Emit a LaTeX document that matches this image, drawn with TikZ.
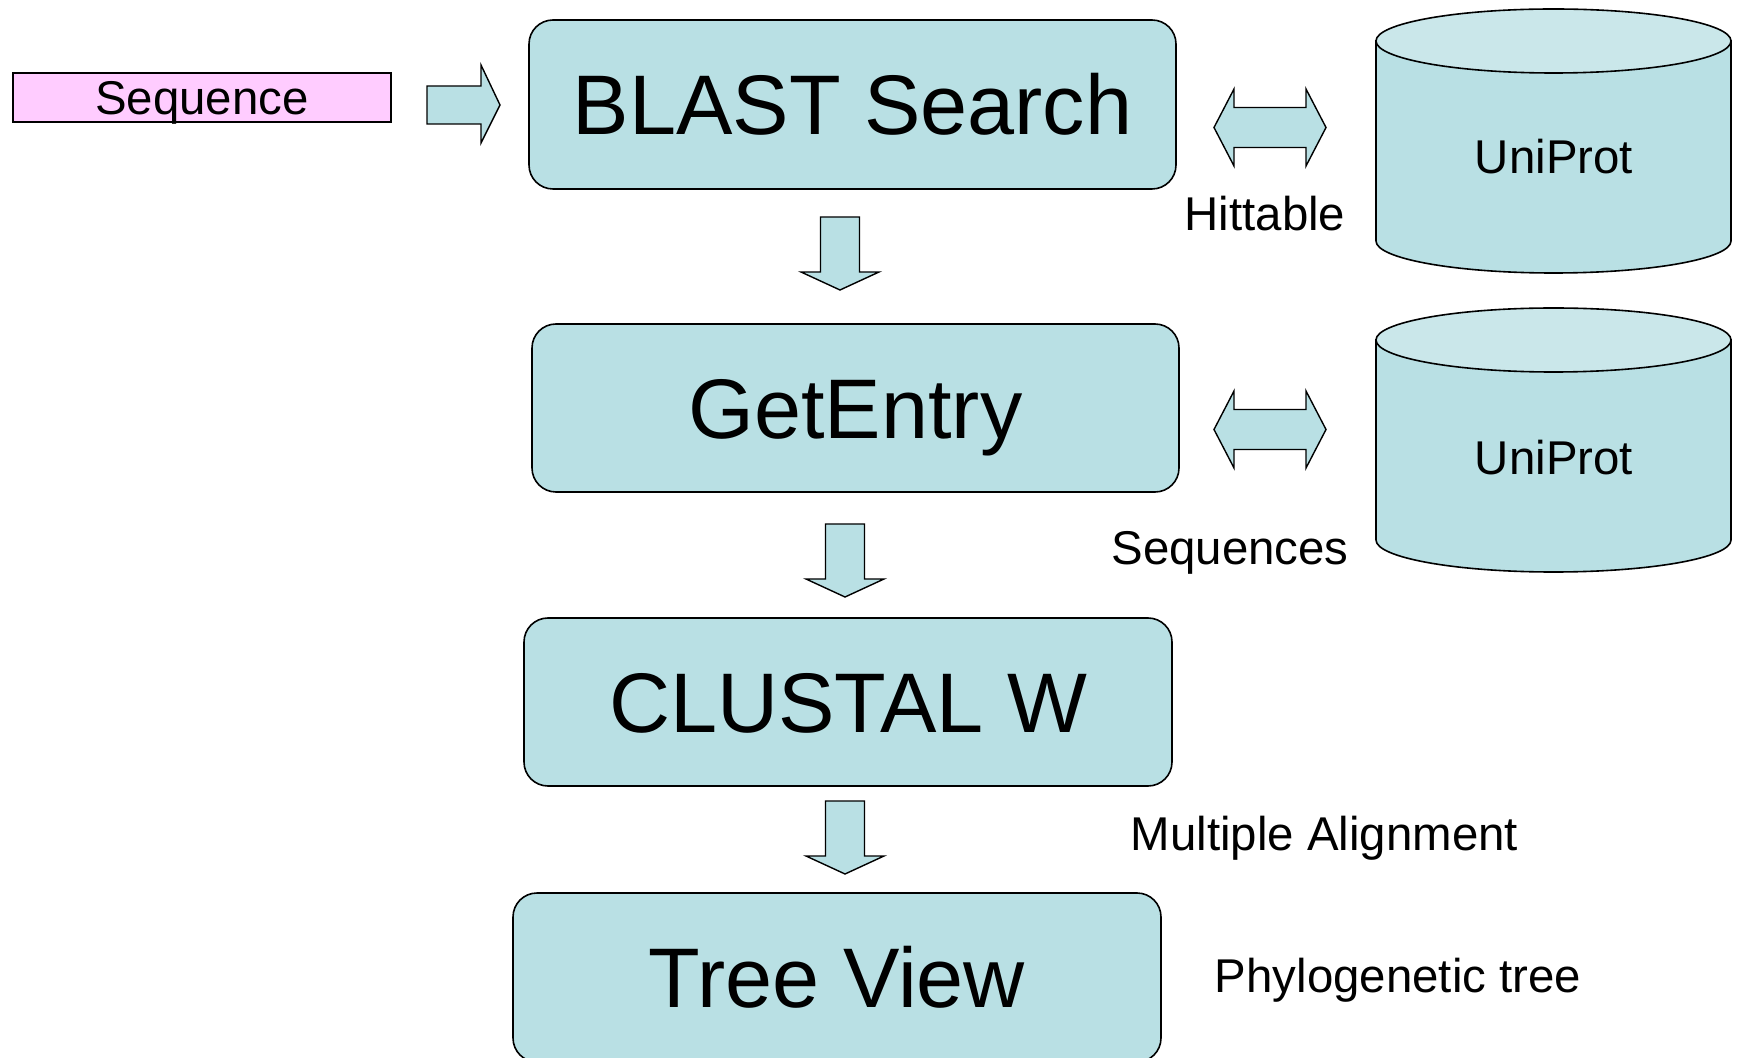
\documentclass[tikz,border=0pt]{standalone}
\usepackage{fontspec}
\setmainfont{Liberation Sans}
\definecolor{boxfill}{RGB}{185,224,228}
\definecolor{topfill}{RGB}{202,231,234}
\definecolor{pinkfill}{RGB}{255,204,255}
\tikzset{
  bigbox/.style={draw=black, line width=0.8pt, fill=boxfill, rounded corners=12pt,
    font=\fontsize{42.3pt}{50pt}\selectfont, text height=30.3pt, text depth=0pt,
    minimum width=323.5pt, inner sep=0pt},
  lbl/.style={font=\fontsize{23.7pt}{28pt}\selectfont, text height=17pt, text depth=0pt, inner sep=0pt},
  arrowfill/.style={draw=black, line width=0.7pt, fill=boxfill, line join=miter},
  downarr/.pic={\draw[arrowfill] (-19.5,0) -- (19.5,0) -- (19.5,55) -- (39,55) -- (0,73)
      -- (-39,55) -- (-19.5,55) -- cycle;},
  dblarr/.pic={\draw[arrowfill] (-56,0) -- (-36,-38.5) -- (-36,-20) -- (36,-20) -- (36,-38.5)
      -- (56,0) -- (36,38.5) -- (36,20) -- (-36,20) -- (-36,38.5) -- cycle;},
  cyl/.pic={\draw[arrowfill, line width=0.8pt] (-177.5,0) -- (-177.5,200)
      arc[start angle=180, end angle=360, x radius=88.75pt, y radius=16pt] -- (177.5,0) -- cycle;
    \draw[line width=0.8pt, fill=topfill] (0,0) ellipse [x radius=88.75pt, y radius=16pt];}
}
\begin{document}
\begin{tikzpicture}[x=0.5pt, y=-0.5pt]
\useasboundingbox (0,0) rectangle (1740,1058);

% Sequence input
\node[draw=black, line width=0.8pt, fill=pinkfill, minimum width=189pt, minimum height=24.5pt,
  font=\fontsize{23.7pt}{28pt}\selectfont, text height=17pt, text depth=0pt, inner sep=0pt]
  (seq) at (202,97.5) {Sequence};
\draw[arrowfill] (427,86) -- (481,86) -- (481,65) -- (500,105) -- (481,143) -- (481,124) -- (427,124) -- cycle;

% main boxes
\node[bigbox, minimum height=84.5pt] (blast) at (852.5,104.5) {BLAST Search};
\node[bigbox, minimum height=84pt] (getentry) at (855.5,408) {GetEntry};
\node[bigbox, minimum height=84pt, minimum width=324pt] (clustal) at (848,702) {CLUSTAL W};
\node[bigbox, minimum height=84.5pt, minimum width=324pt] (tree) at (837,977.5) {Tree View};

% down arrows
\pic at (840,217) {downarr};
\pic at (845,524) {downarr};
\pic at (845,801) {downarr};

% double arrows
\pic at (1270,127.5) {dblarr};
\pic at (1270,429.5) {dblarr};

% databases
\pic at (1553.5,41) {cyl};
\pic at (1553.5,340) {cyl};
\node[lbl] (uni1) at (1554,156.5) {UniProt};
\node[lbl] (uni2) at (1554,458) {UniProt};

% labels
\node[lbl] (hit) at (1265,213.5) {Hittable};
\node[lbl] (seqs) at (1230,547.5) {Sequences};
\node[lbl] (multi) at (1324.5,833) {Multiple Alignment};
\node[lbl] (phylo) at (1398,975) {Phylogenetic tree};
\end{tikzpicture}
\end{document}
